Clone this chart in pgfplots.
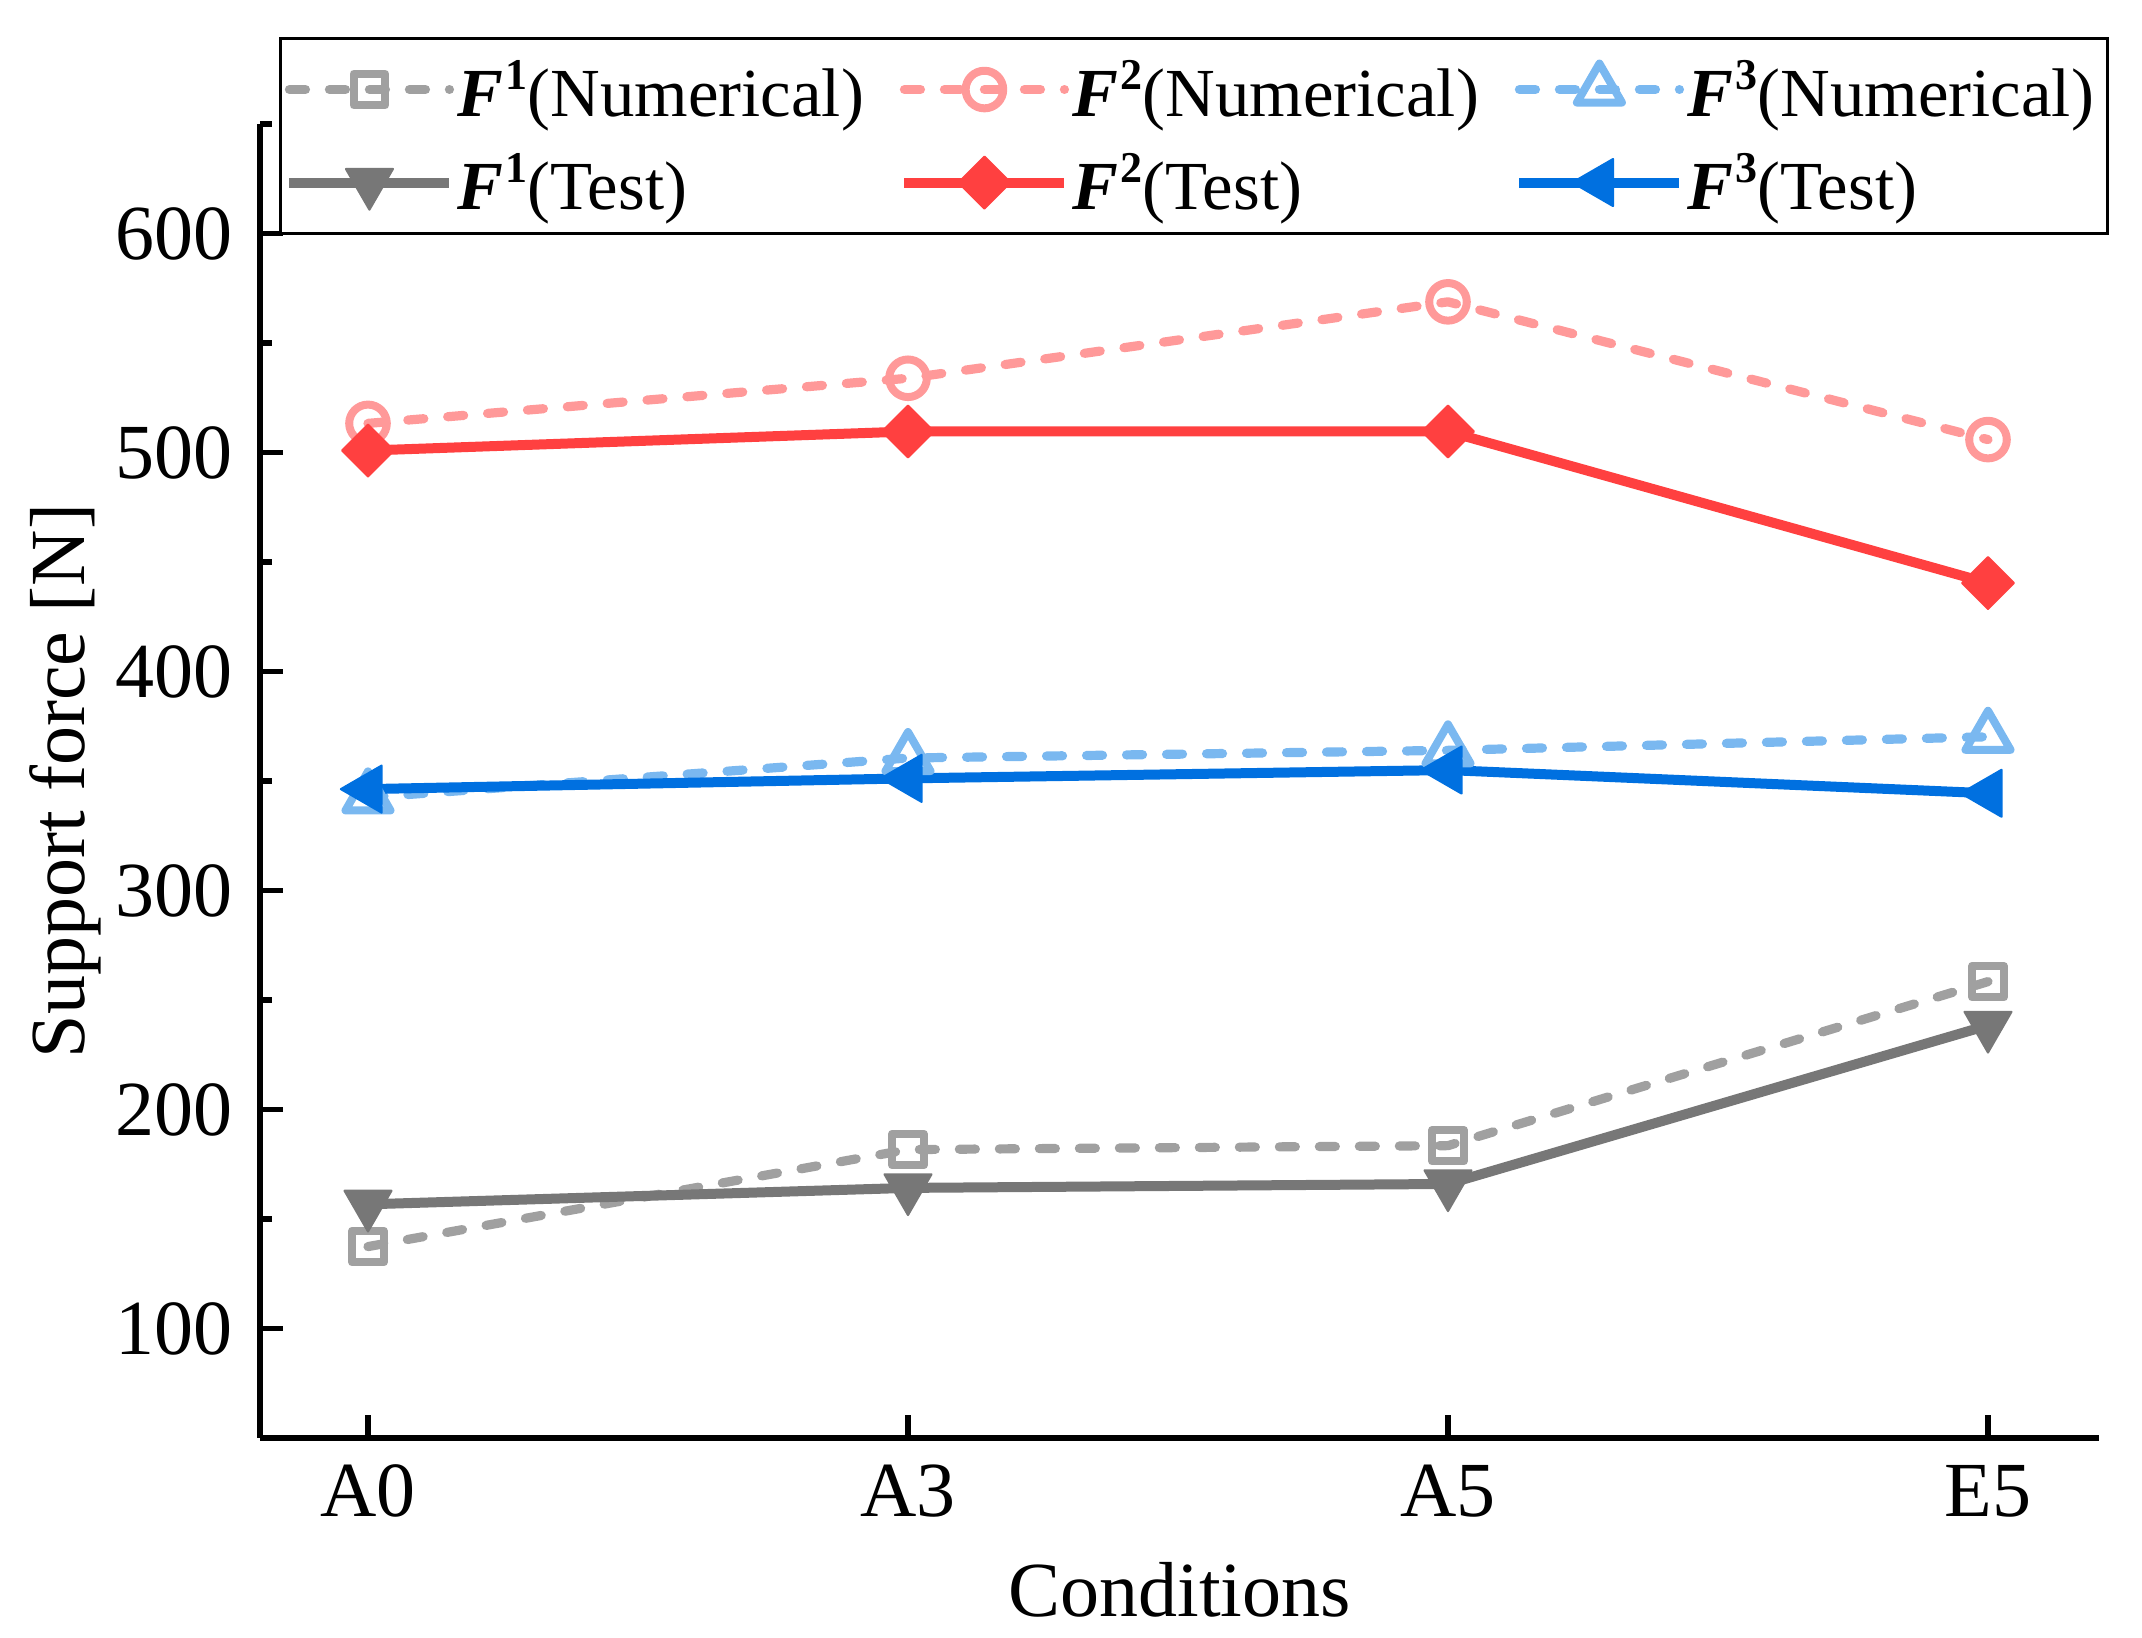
\documentclass[border=0pt]{standalone}
\usepackage{fontspec}
\setmainfont{Liberation Serif}
\usepackage{pgfplots}
\pgfplotsset{compat=1.18}

\definecolor{cFa}{RGB}{160,160,160}
\definecolor{cFb}{RGB}{119,119,119}
\definecolor{cFc}{RGB}{255,153,153}
\definecolor{cFd}{RGB}{255,64,64}
\definecolor{cFe}{RGB}{122,184,240}
\definecolor{cFf}{RGB}{0,112,224}

\newcommand{\Fs}[1]{\textbf{\textit{F}}\kern0.6pt\raisebox{6.75pt}{\fontsize{11}{12}\selectfont\bfseries #1}}

\pgfplotstableread{
x  f1n   f2n   f3n   f1t   f2t   f3t
0  137.4 513.3 342.5 156.7 500.9 346.3
1  181.7 533.9 360.5 164.2 509.6 351.2
2  183.5 568.8 364.0 166.0 509.6 355.0
3  258.4 505.9 370.2 238.4 440.4 344.4
}\datatable

\begin{document}
\begin{tikzpicture}
\useasboundingbox (-65pt,-50pt) rectangle (470.5pt,359.5pt);
\begin{axis}[
  at={(0pt,0pt)}, anchor=south west,
  scale only axis, width=459.75pt, height=328.5pt,
  xmin=-0.2, xmax=3.2056, ymin=50, ymax=650,
  axis x line*=bottom, axis y line*=left,
  axis line style={line width=1.4pt, -},
  xtick={0,1,2,3}, xticklabels={A0,A3,A5,E5},
  ytick={100,200,...,600}, minor ytick={50,150,...,650},
  tick align=inside, major tick length=5.75pt, minor tick length=3pt,
  every tick/.style={black, line width=1.4pt},
  tick label style={font=\fontsize{19.5}{23}\selectfont},
  /pgf/number format/assume math mode=true,
  xticklabel style={anchor=base, yshift=-19.75pt, inner sep=0pt},
  yticklabel style={anchor=east, inner sep=0pt, xshift=-6.75pt},
  xlabel={Conditions}, ylabel={Support force [N]},
  label style={font=\fontsize{19.5}{23}\selectfont},
  xlabel style={at={(axis description cs:0.500,-0.1362)}, anchor=base},
  ylabel style={at={(axis description cs:-0.106,0.5)}, anchor=center},
  legend columns=3, legend cell align=left,
  legend style={at={(axis description cs:0.0103,1.0662)}, anchor=north west,
    draw=black, line width=0.75pt, fill=white, inner xsep=1pt, inner ysep=2.5pt,
    row sep=2.75pt,
    nodes={inner sep=0pt, text height=17pt, text depth=3.5pt, font=\fontsize{17.2}{20}\selectfont},
    /tikz/every odd column/.style={column sep=0.75pt}},
  legend image code/.code={\draw[mark repeat=2,mark phase=2,#1] plot coordinates {(0pt,0pt) (20pt,0pt) (40pt,0pt)};},
  numl/.style={line width=2.3pt, dash pattern=on 4pt off 6pt, line cap=round, line join=round},
  tesl/.style={line width=2.5pt, solid, line join=round},
]
\addplot[numl, color=cFa, mark=square, mark size=3.95pt, mark options={solid, line width=2pt, fill=white, line join=round}] table[x=x,y=f1n] {\datatable};
\addlegendentry{\makebox[110.5pt][l]{\Fs{1}(Numerical)}}
\addplot[numl, color=cFc, mark=o, mark size=4.7pt, mark options={solid, line width=2pt, fill=white}] table[x=x,y=f2n] {\datatable};
\addlegendentry{\makebox[110.5pt][l]{\Fs{2}(Numerical)}}
\addplot[numl, color=cFe, mark=triangle, mark size=6.5pt, mark options={solid, line width=2pt, fill=white, line join=round}] table[x=x,y=f3n] {\datatable};
\addlegendentry{\makebox[104pt][l]{\Fs{3}(Numerical)}}
\addplot[tesl, color=cFb, mark=triangle*, mark size=6.8pt, mark options={solid, rotate=180, line width=0.5pt}] table[x=x,y=f1t] {\datatable};
\addlegendentry{\makebox[110.5pt][l]{\Fs{1}(Test)}}
\addplot[tesl, color=cFd, mark=square*, mark size=4.6pt, mark options={solid, rotate=45, line width=0.5pt}] table[x=x,y=f2t] {\datatable};
\addlegendentry{\makebox[110.5pt][l]{\Fs{2}(Test)}}
\addplot[tesl, color=cFf, mark=triangle*, mark size=6.8pt, mark options={solid, rotate=90, line width=0.5pt}] table[x=x,y=f3t] {\datatable};
\addlegendentry{\makebox[104pt][l]{\Fs{3}(Test)}}
\end{axis}
\end{tikzpicture}
\end{document}
